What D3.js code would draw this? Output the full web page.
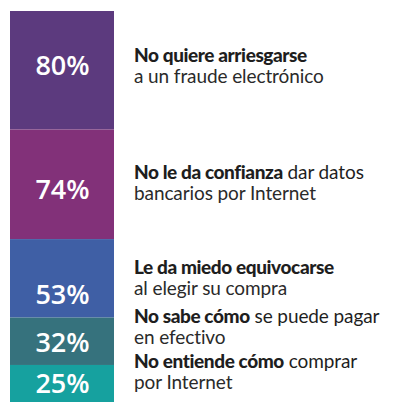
<!DOCTYPE html>
<html><head><meta charset="utf-8">
<script src="https://cdn.jsdelivr.net/npm/d3@7"></script>
<style>body{margin:0;background:#fff}</style>
</head><body>
<svg id="c" width="415" height="408"></svg>
<script>
const values = [80, 74, 53, 32, 25];
const boldText = ["No quiere arriesgarse", "No le da confianza", "Le da miedo equivocarse", "No sabe cómo", "No entiende cómo"];
const restLine1 = ["", "  dar datos", "", " se puede pagar", " comprar"];
const line2 = ["a un fraude electrónico", "bancarios por Internet", "al elegir su compra", "en efectivo", "por Internet"];
const colors = ["#5c3a7e", "#823179", "#3f5fa5", "#36727d", "#16a19f"];
// layout (offsets from block top, px)
const pctOffset = [64, 70, 65, 34, 28];
const textOffset = [51, 50, 35, 5, 3];

const svg = d3.select("#c");
const total = d3.sum(values);
const cum = values.map((v,i)=>d3.sum(values.slice(0,i)));
const y = d3.scaleLinear().domain([0,total]).range([11,402]);
const x0 = 10, x1 = 114;

svg.selectAll("rect").data(values).join("rect")
  .attr("x", x0).attr("width", x1-x0)
  .attr("y", (d,i)=>y(cum[i]))
  .attr("height", (d,i)=>y(cum[i]+d)-y(cum[i]))
  .attr("fill", (d,i)=>colors[i]);

svg.selectAll("text.pct").data(values).join("text").attr("class","pct")
  .attr("x", (x0+x1)/2+0.5)
  .attr("y", (d,i)=>y(cum[i])+pctOffset[i])
  .attr("text-anchor","middle")
  .attr("font-family","'Open Sans', sans-serif")
  .attr("font-weight",600)
  .attr("font-size",27)
  .attr("fill","#fff")
  .text(d=>d+"%");

const tx = 134;
const g = svg.append("g").attr("transform",`translate(${tx},0)`);
const fam = "Lato, sans-serif";
values.forEach((v,i)=>{
  const top = y(cum[i]) + textOffset[i];
  const t1 = g.append("text").attr("x",0).attr("y",top)
    .attr("font-family",fam).attr("font-size",19).attr("fill","#1e1e1e");
  t1.append("tspan").attr("font-weight",900).attr("letter-spacing",-0.4).text(boldText[i]);
  if (restLine1[i]) t1.append("tspan").attr("font-weight",400).attr("letter-spacing",-0.1).text(restLine1[i]);
  g.append("text").attr("x",0).attr("y",top+21)
    .attr("font-family",fam).attr("font-size",19).attr("fill","#2a2a2a")
    .attr("letter-spacing",-0.1)
    .text(line2[i]);
});
</script>
</body></html>
